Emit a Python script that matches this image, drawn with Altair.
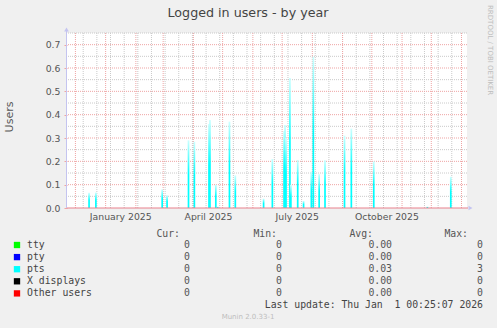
import altair as alt
import pandas as pd

# ---------------- data ----------------
pts_dates = ["2024-12-15", "2024-12-22", "2025-02-28", "2025-03-05", "2025-03-27",
             "2025-04-02", "2025-04-17", "2025-04-18", "2025-04-24", "2025-04-26",
             "2025-05-08", "2025-05-14", "2025-06-12", "2025-06-21", "2025-07-03",
             "2025-07-04", "2025-07-05", "2025-07-09", "2025-07-10", "2025-07-17",
             "2025-07-23", "2025-07-31", "2025-08-02", "2025-08-08", "2025-08-14",
             "2025-09-03", "2025-09-10", "2025-10-03", "2025-11-27", "2025-12-21"]
pts_values = [0.065, 0.066, 0.08, 0.055, 0.29,
              0.284, 0.36, 0.377, 0.10, 0.006,
              0.37, 0.14, 0.04, 0.21, 0.33,
              0.356, 0.30, 0.557, 0.10, 0.206,
              0.03, 0.155, 0.648, 0.145, 0.205,
              0.31, 0.34, 0.20, 0.006, 0.134]

x_domain = ["2024-11-27T12:00", "2026-01-01T12:00"]
x_label_dates = ["2025-01-16", "2025-04-16", "2025-07-16", "2025-10-16"]
month_starts = ["2024-12-01", "2025-01-01", "2025-02-01", "2025-03-01", "2025-04-01",
                "2025-05-01", "2025-06-01", "2025-07-01", "2025-08-01", "2025-09-01",
                "2025-10-01", "2025-11-01", "2025-12-01", "2026-01-01"]
biweekly_grid = [d.strftime("%Y-%m-%d") for d in pd.date_range("2024-12-09", "2025-12-31", freq="14D")]

y_major = [0.0, 0.1, 0.2, 0.3, 0.4, 0.5, 0.6, 0.7]
y_minor = [0.05, 0.15, 0.25, 0.35, 0.45, 0.55, 0.65, 0.75]

legend_names = ["tty", "pty", "pts", "X displays", "Other users"]
legend_colors = ["#00FF00", "#0000FF", "#00FFFF", "#000000", "#FF0000"]
cur_vals = ["0", "0", "0", "0", "0"]
min_vals = ["0", "0", "0", "0", "0"]
avg_vals = ["0.00", "0.00", "0.03", "0.00", "0.00"]
max_vals = ["0", "0", "3", "0", "0"]
headers = ["Cur:", "Min:", "Avg:", "Max:"]

title_text = "Logged in users - by year"
y_title = "Users"
side_text = "RRDTOOL / TOBI OETIKER"
last_update = "Last update: Thu Jan \u00a01 00:25:07 2026"
footer = "Munin 2.0.33-1"


def ms(s):
    return int(pd.Timestamp(s, tz="UTC").value // 1_000_000)


SANS = "DejaVu Sans"
MONO = "DejaVu Sans Mono"
TXT = "#555555"
RED_GRID = "#EFA4A4"
GRAY_GRID = "#CACACA"

x_scale = alt.Scale(type="utc", domain=[ms(d) for d in x_domain], nice=False)
y_scale = alt.Scale(domain=[0, 0.75], nice=False, zero=True)

x_axis = alt.Axis(values=[ms(d) for d in x_label_dates], format="%B %Y",
                  labelFont=SANS, labelFontSize=9.3, labelColor=TXT,
                  ticks=False, domain=False, grid=False, labelPadding=4,
                  title=None, labelOverlap=False)
y_axis = alt.Axis(values=y_major, format=".1f", labelFont=SANS,
                  labelFontSize=9.3, labelColor=TXT, ticks=True, tickSize=3,
                  tickColor=RED_GRID, domain=False, grid=False,
                  labelPadding=4, title=None)

dummy = pd.DataFrame({"a": [0]})

# ---------------- grid ----------------
minor_h = alt.Chart(pd.DataFrame({"v": y_minor})).mark_rule(
    color=GRAY_GRID, strokeDash=[1, 1], strokeWidth=1
).encode(y=alt.Y("v:Q", scale=y_scale, axis=y_axis))

minor_v = alt.Chart(pd.DataFrame({"t": [ms(d) for d in biweekly_grid]})).mark_rule(
    color=GRAY_GRID, strokeDash=[1, 1], strokeWidth=1
).encode(x=alt.X("t:T", scale=x_scale, axis=x_axis))

major_h = alt.Chart(pd.DataFrame({"v": y_major[1:]})).mark_rule(
    color=RED_GRID, strokeDash=[1, 1], strokeWidth=1
).encode(y=alt.Y("v:Q", scale=y_scale, axis=y_axis))

major_v = alt.Chart(pd.DataFrame({"t": [ms(d) for d in month_starts]})).mark_rule(
    color=RED_GRID, strokeDash=[1, 1], strokeWidth=1
).encode(x=alt.X("t:T", scale=x_scale, axis=x_axis))

# ---------------- spikes ----------------
pts_df = pd.DataFrame({"t": [ms(d) for d in pts_dates], "v": pts_values})
grad = alt.Gradient(
    gradient="linear",
    stops=[alt.GradientStop(color="#00FFFF", offset=0),
           alt.GradientStop(color="#00FFFF", offset=0.5),
           alt.GradientStop(color="#CCFFFF", offset=1)],
    x1=0, x2=0, y1=1, y2=0,
)
spikes = alt.Chart(pts_df).mark_bar(width=1.7, color=grad).encode(
    x=alt.X("t:T", scale=x_scale, axis=x_axis),
    y=alt.Y("v:Q", scale=y_scale, axis=y_axis),
)

# ---------------- axes lines / arrows ----------------
baseline = alt.Chart(dummy).mark_rule(color="#E8808C", strokeWidth=1).encode(
    x=alt.value(0), x2=alt.value(401), y=alt.value(175))
left_axis = alt.Chart(dummy).mark_rule(color="#C4C4F0", strokeWidth=1).encode(
    x=alt.value(-0.5), y=alt.value(-3), y2=alt.value(175))
up_arrow = alt.Chart(dummy).mark_point(shape="triangle-up", filled=True, size=22,
                                       color="#C4C4F0", opacity=1).encode(
    x=alt.value(-0.5), y=alt.value(-3.5))
right_arrow = alt.Chart(dummy).mark_point(shape="triangle-right", filled=True, size=22,
                                          color="#C4C4F0", opacity=1).encode(
    x=alt.value(403.5), y=alt.value(175))


# ---------------- texts ----------------
def label(text, x, y, **kw):
    return alt.Chart(dummy).mark_text(text=text, **kw).encode(x=alt.value(x), y=alt.value(y))


texts = [
    label(title_text, 181, -20, font=SANS, fontSize=12.7, color="#444444",
          align="center", baseline="middle"),
    label(y_title, -57, 84, font=SANS, fontSize=11, color=TXT, angle=270,
          align="center", baseline="middle"),
    label(side_text, 423, -28, font=SANS, fontSize=7, color="#BDBDBD", angle=90,
          align="left", baseline="middle"),
]

MONO_KW = dict(font=MONO, fontSize=9.8, baseline="middle")
for h, xr in zip(headers, [113, 210, 306, 401]):
    texts.append(label(h, xr, 201, color=TXT, align="right", **MONO_KW))

for i, name in enumerate(legend_names):
    yy = 212 + i * 12.1
    texts.append(alt.Chart(dummy).mark_square(size=40, opacity=1, color=legend_colors[i])
                 .encode(x=alt.value(-50), y=alt.value(yy)))
    texts.append(label(name, -40, yy, color="#444444", align="left", **MONO_KW))
    for vals, xr in [(cur_vals, 123), (min_vals, 215), (avg_vals, 325), (max_vals, 416)]:
        texts.append(label(vals[i], xr, yy, color=TXT, align="right", **MONO_KW))

texts.append(label(last_update, 416, 272, color="#444444", align="right", **MONO_KW))
texts.append(label(footer, 181, 284, font=SANS, fontSize=7, color="#BDBDBD",
                   align="center", baseline="middle"))

chart = alt.layer(
    minor_h, minor_v, major_h, major_v, spikes, baseline, left_axis, up_arrow,
    right_arrow, *texts
).properties(
    width=400, height=175,
    padding={"left": 67, "top": 33, "right": 30, "bottom": 120},
    autosize=alt.AutoSizeParams(type="none"),
).configure(background="#F0F0F0").configure_view(fill="white", strokeWidth=0)

chart.save("out.html", embed_options={"renderer": "svg", "actions": False})
